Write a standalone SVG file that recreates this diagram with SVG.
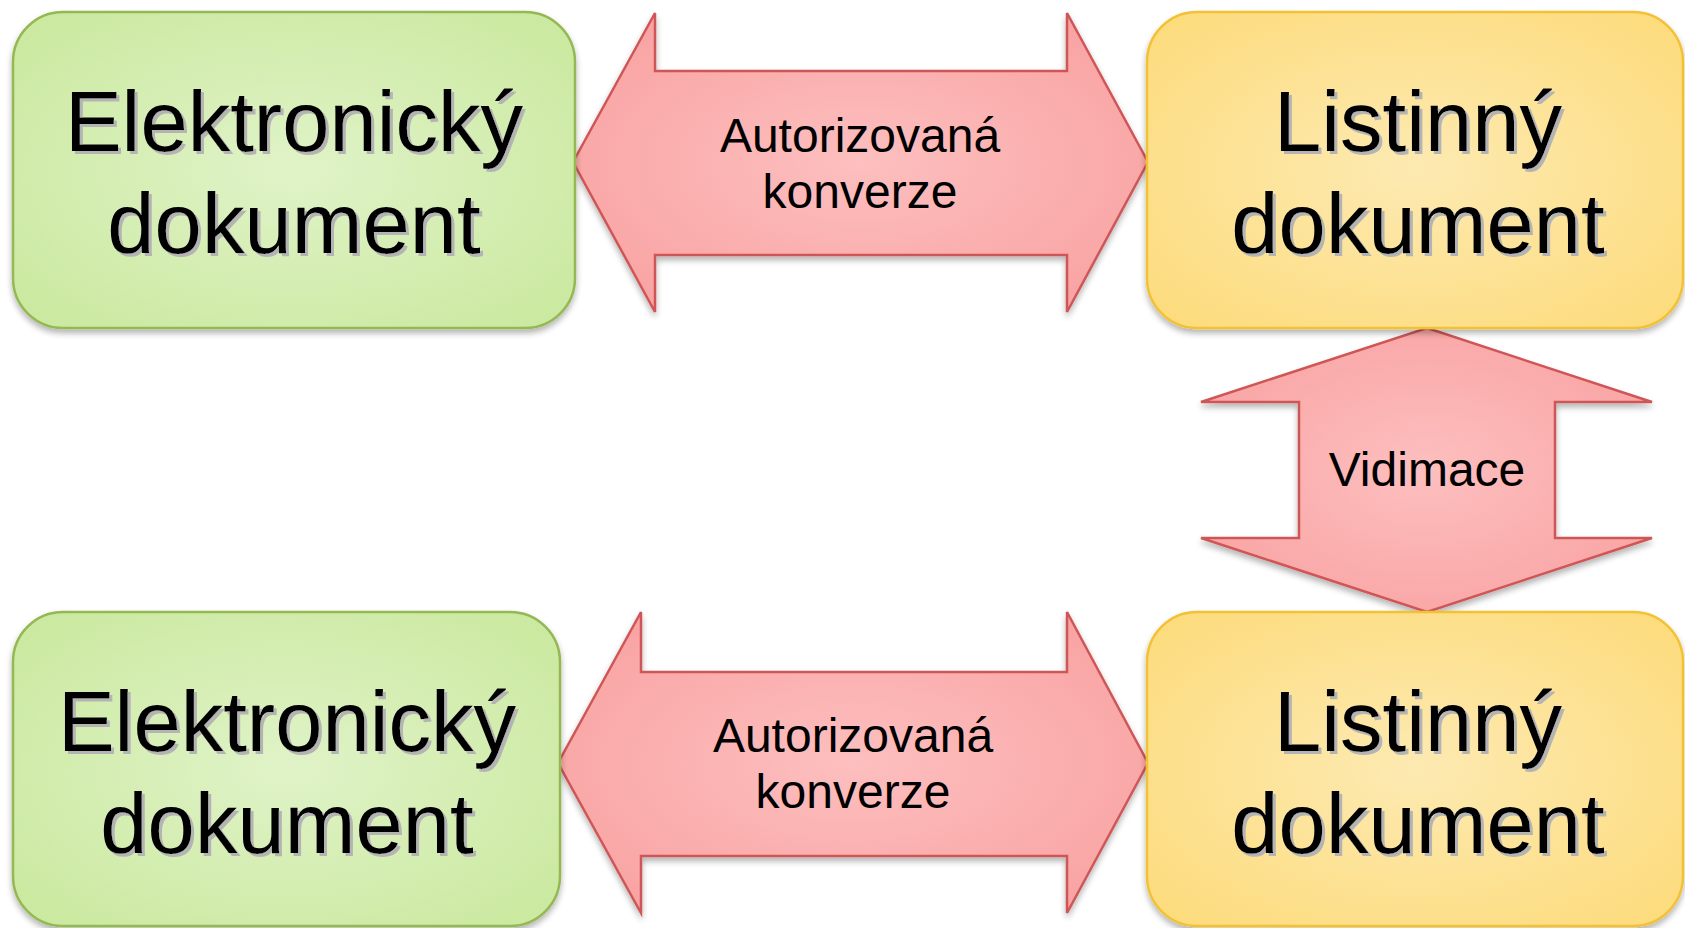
<svg xmlns="http://www.w3.org/2000/svg" width="1685" height="928" viewBox="0 0 1685 928">
<defs>
<radialGradient id="gGreen" cx="50%" cy="50%" r="65%">
<stop offset="0" stop-color="#e0f3c8"/>
<stop offset="1" stop-color="#cbe9a0"/>
</radialGradient>
<radialGradient id="gYellow" cx="50%" cy="50%" r="65%">
<stop offset="0" stop-color="#fdeab2"/>
<stop offset="1" stop-color="#fddc7e"/>
</radialGradient>
<radialGradient id="gRed" cx="50%" cy="50%" r="60%">
<stop offset="0" stop-color="#fdbfbf"/>
<stop offset="1" stop-color="#f9a3a3"/>
</radialGradient>
<filter id="shadow" x="-10%" y="-10%" width="120%" height="130%">
<feGaussianBlur in="SourceAlpha" stdDeviation="3"/>
<feOffset dx="0" dy="4" result="b"/>
<feComponentTransfer><feFuncA type="linear" slope="0.3"/></feComponentTransfer>
<feMerge><feMergeNode/><feMergeNode in="SourceGraphic"/></feMerge>
</filter>
<filter id="tshadow" x="-5%" y="-10%" width="115%" height="130%">
<feFlood flood-color="#b4b4b4"/>
<feComposite operator="in" in2="SourceAlpha"/>
<feOffset dx="3" dy="3"/>
<feMerge><feMergeNode/><feMergeNode in="SourceGraphic"/></feMerge>
</filter>
</defs>
<style>
.green{fill:url(#gGreen);stroke:#94b852;stroke-width:2.5;filter:url(#shadow)}
.yellow{fill:url(#gYellow);stroke:#f2c136;stroke-width:2.5;filter:url(#shadow)}
.arrow{fill:url(#gRed);stroke:#cf5656;stroke-width:2.5;stroke-linejoin:miter;filter:url(#shadow)}
.big{font-family:"Liberation Sans",Arial,sans-serif;font-size:85px;fill:#000;text-anchor:middle;filter:url(#tshadow)}
.lbl{font-family:"Liberation Sans",Arial,sans-serif;font-size:48px;fill:#000;text-anchor:middle}
</style>
<rect width="1685" height="928" fill="#ffffff"/>

<g id="connectors">
<g id="arrow-top">
<path class="arrow" d="M573,162 L655,13 L655,71 L1067,71 L1067,13 L1148,162 L1067,312 L1067,255 L655,255 L655,312 Z"/>
<text class="lbl" x="860" y="152">Autorizovaná</text>
<text class="lbl" x="860" y="208">konverze</text>
</g>
<g id="arrow-vidimace">
<path class="arrow" d="M1427,328 L1652,402 L1555,402 L1555,538 L1652,538 L1427,612 L1201,538 L1299,538 L1299,402 L1201,402 Z"/>
<text class="lbl" x="1427" y="486">Vidimace</text>
</g>
<g id="arrow-bottom">
<path class="arrow" d="M558,763 L641,612 L641,672 L1067,672 L1067,612 L1148,763 L1067,913 L1067,856 L641,856 L641,913 Z"/>
<text class="lbl" x="853" y="752">Autorizovaná</text>
<text class="lbl" x="853" y="808">konverze</text>
</g>
</g>

<g id="el-doc-top">
<rect class="green" x="13" y="12" width="562" height="316" rx="50" ry="50"/>
<text class="big" x="294" y="151">Elektronický</text>
<text class="big" x="294" y="253">dokument</text>
</g>

<g id="list-doc-top">
<rect class="yellow" x="1147" y="12" width="536" height="316" rx="50" ry="50"/>
<text class="big" x="1418" y="151">Listinný</text>
<text class="big" x="1418" y="253">dokument</text>
</g>

<g id="el-doc-bottom">
<rect class="green" x="13" y="612" width="547" height="314" rx="50" ry="50"/>
<text class="big" x="287" y="751">Elektronický</text>
<text class="big" x="287" y="853">dokument</text>
</g>

<g id="list-doc-bottom">
<rect class="yellow" x="1147" y="612" width="536" height="314" rx="50" ry="50"/>
<text class="big" x="1418" y="751">Listinný</text>
<text class="big" x="1418" y="853">dokument</text>
</g>
</svg>
